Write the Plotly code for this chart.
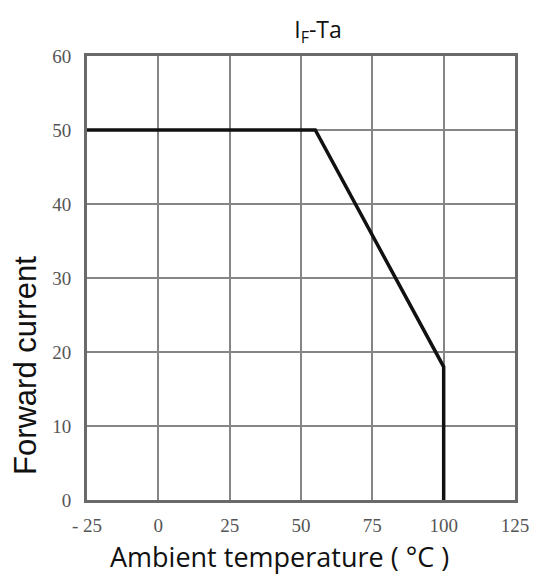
import plotly.graph_objects as go

temp_c = [-25, 55, 100, 100]
forward_current = [50, 50, 18, 0]
x_tick_vals = [-25, 0, 25, 50, 75, 100, 125]
x_tick_text = ["- 25", "0", "25", "50", "75", "100", "125"]
y_tick_vals = [0, 10, 20, 30, 40, 50, 60]
y_tick_text = ["0", "10", "20", "30", "40", "50", "60"]

# page body has an 8px default margin, so figure coords = screen - 8
W, H = 533, 566
L, R, T, B = 79, 12, 48, 74
PW, PH = W - L - R, H - T - B


def px_to_paper(sx, sy):
    fx, fy = sx - 8, sy - 8
    return (fx - L) / PW, (H - B - fy) / PH


fig = go.Figure()
fig.add_trace(go.Scatter(
    x=temp_c, y=forward_current, mode="lines",
    line=dict(color="#111111", width=3.5), showlegend=False,
))

yx, yy = px_to_paper(23, 366)
xx, xy = px_to_paper(286, 556)

fig.update_layout(
    width=W, height=H,
    margin=dict(l=L, r=R, t=T, b=B),
    paper_bgcolor="white", plot_bgcolor="white",
    title=dict(text="I<sub>F</sub>-Ta", x=(318 - 8) / W, xanchor="center",
               y=1 - (30 - 8) / H, yanchor="middle",
               font=dict(family="Open Sans", size=23, color="#111111")),
    annotations=[
        dict(text="Forward current", xref="paper", yref="paper", x=yx, y=yy,
             xanchor="center", yanchor="middle", textangle=-90, showarrow=False,
             font=dict(family="Liberation Sans", size=31, color="#111111")),
        dict(text="Ambient temperature ( °C )", xref="paper", yref="paper", x=xx, y=xy,
             xanchor="center", yanchor="middle", showarrow=False,
             font=dict(family="Open Sans", size=27, color="#111111")),
    ],
)
axis_style = dict(
    showgrid=True, gridcolor="#858585", gridwidth=1.6,
    zeroline=False, showline=True, linecolor="#6a6a6a", linewidth=3, mirror=True,
    ticks="", tickfont=dict(family="Liberation Serif", size=19, color="#555555"),
)
fig.update_xaxes(range=[-25, 125], tickvals=x_tick_vals, ticktext=x_tick_text,
                 ticklabelstandoff=6, **axis_style)
fig.update_yaxes(range=[0, 60], tickvals=y_tick_vals, ticktext=y_tick_text,
                 ticklabelstandoff=9, **axis_style)

fig.write_html("out.html")
